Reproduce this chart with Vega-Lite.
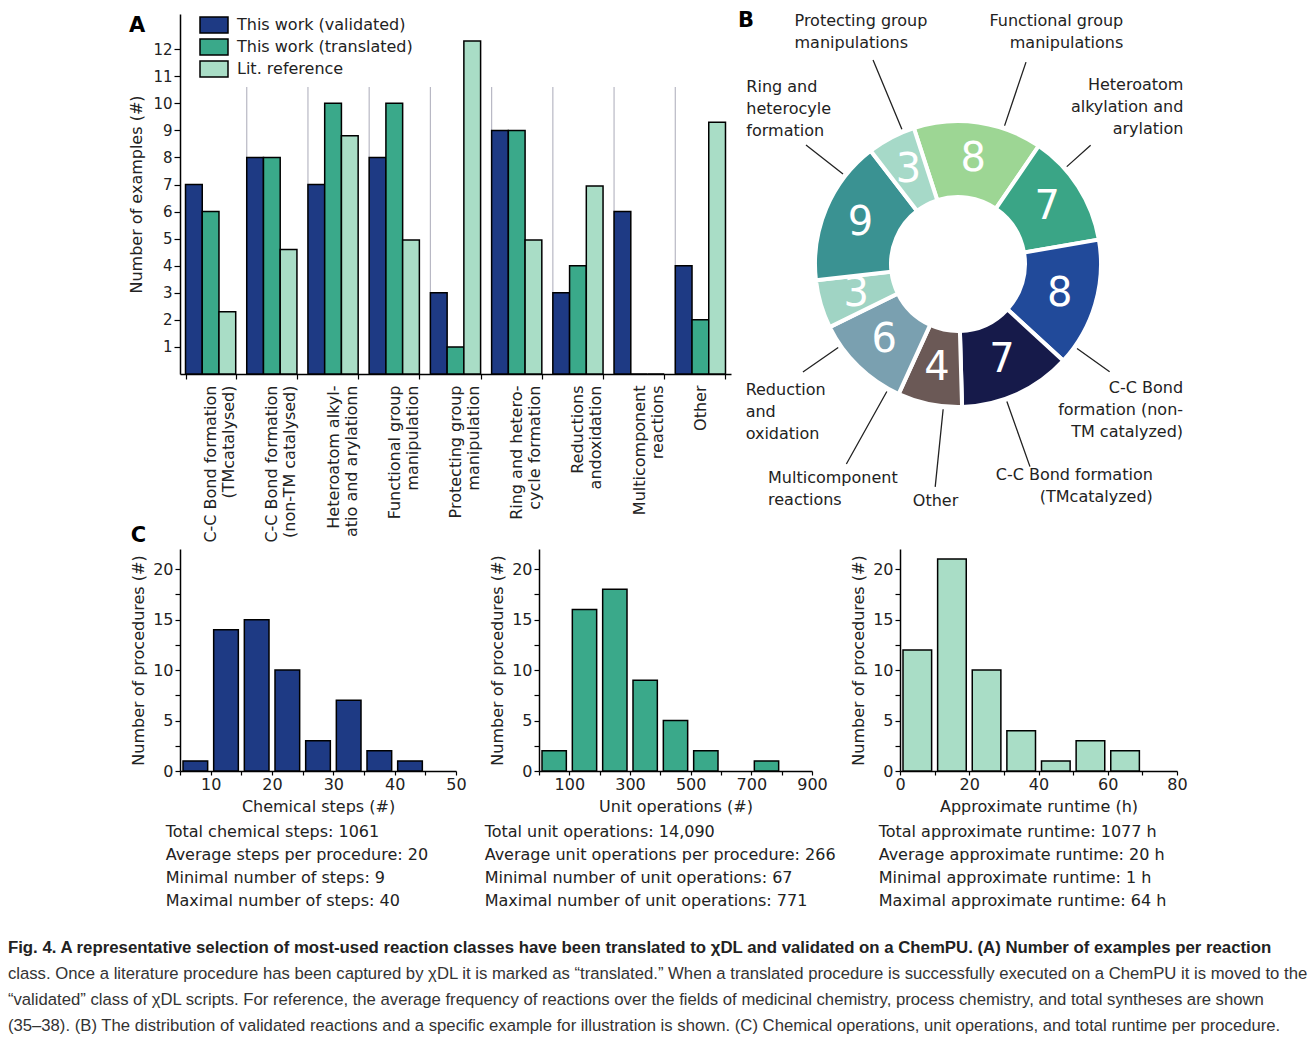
{
  "$schema": "https://vega.github.io/schema/vega-lite/v6.json",
  "padding": {"left": 7, "top": 9, "right": 4, "bottom": 4},
  "datasets": {
    "a": [
      {"k": 1, "cat": "C-C Bond formation\n(TMcatalysed)", "s": "This work (validated)", "v": 7},
      {"k": 1, "cat": "C-C Bond formation\n(TMcatalysed)", "s": "This work (translated)", "v": 6},
      {"k": 1, "cat": "C-C Bond formation\n(TMcatalysed)", "s": "Lit. reference", "v": 2.3},
      {"k": 2, "cat": "C-C Bond formation\n(non-TM catalysed)", "s": "This work (validated)", "v": 8},
      {"k": 2, "cat": "C-C Bond formation\n(non-TM catalysed)", "s": "This work (translated)", "v": 8},
      {"k": 2, "cat": "C-C Bond formation\n(non-TM catalysed)", "s": "Lit. reference", "v": 4.6},
      {"k": 3, "cat": "Heteroatom alkyl-\natio and arylationn", "s": "This work (validated)", "v": 7},
      {"k": 3, "cat": "Heteroatom alkyl-\natio and arylationn", "s": "This work (translated)", "v": 10},
      {"k": 3, "cat": "Heteroatom alkyl-\natio and arylationn", "s": "Lit. reference", "v": 8.8},
      {"k": 4, "cat": "Functional group\nmanipulation", "s": "This work (validated)", "v": 8},
      {"k": 4, "cat": "Functional group\nmanipulation", "s": "This work (translated)", "v": 10},
      {"k": 4, "cat": "Functional group\nmanipulation", "s": "Lit. reference", "v": 4.95},
      {"k": 5, "cat": "Protecting group\nmanipulation", "s": "This work (validated)", "v": 3},
      {"k": 5, "cat": "Protecting group\nmanipulation", "s": "This work (translated)", "v": 1},
      {"k": 5, "cat": "Protecting group\nmanipulation", "s": "Lit. reference", "v": 12.3},
      {"k": 6, "cat": "Ring and hetero-\ncycle formation", "s": "This work (validated)", "v": 9},
      {"k": 6, "cat": "Ring and hetero-\ncycle formation", "s": "This work (translated)", "v": 9},
      {"k": 6, "cat": "Ring and hetero-\ncycle formation", "s": "Lit. reference", "v": 4.95},
      {"k": 7, "cat": "Reductions\nandoxidation", "s": "This work (validated)", "v": 3},
      {"k": 7, "cat": "Reductions\nandoxidation", "s": "This work (translated)", "v": 4},
      {"k": 7, "cat": "Reductions\nandoxidation", "s": "Lit. reference", "v": 6.95},
      {"k": 8, "cat": "Multicomponent\nreactions", "s": "This work (validated)", "v": 6},
      {"k": 8, "cat": "Multicomponent\nreactions", "s": "This work (translated)", "v": 0},
      {"k": 8, "cat": "Multicomponent\nreactions", "s": "Lit. reference", "v": 0},
      {"k": 9, "cat": "Other", "s": "This work (validated)", "v": 4},
      {"k": 9, "cat": "Other", "s": "This work (translated)", "v": 2},
      {"k": 9, "cat": "Other", "s": "Lit. reference", "v": 9.3}
    ],
    "b": [
      {"ord": 1, "seg": "Functional group manipulations", "n": 8, "lab": "Functional group\nmanipulations"},
      {"ord": 2, "seg": "Heteroatom alkylation and arylation", "n": 7, "lab": "Heteroatom\nalkylation and\narylation"},
      {"ord": 3, "seg": "C-C Bond formation (non-TM catalyzed)", "n": 8, "lab": "C-C Bond\nformation (non-\nTM catalyzed)"},
      {"ord": 4, "seg": "C-C Bond formation (TMcatalyzed)", "n": 7, "lab": "C-C Bond formation\n(TMcatalyzed)"},
      {"ord": 5, "seg": "Other", "n": 4, "lab": "Other"},
      {"ord": 6, "seg": "Multicomponent reactions", "n": 6, "lab": "Multicomponent\nreactions"},
      {"ord": 7, "seg": "Reduction and oxidation", "n": 3, "lab": "Reduction\nand\noxidation"},
      {"ord": 8, "seg": "Ring and heterocyle formation", "n": 9, "lab": "Ring and\nheterocyle\nformation"},
      {"ord": 9, "seg": "Protecting group manipulations", "n": 3, "lab": "Protecting group\nmanipulations"}
    ],
    "c1": [
      {"b0": 5, "b1": 10, "n": 1}, {"b0": 10, "b1": 15, "n": 14}, {"b0": 15, "b1": 20, "n": 15},
      {"b0": 20, "b1": 25, "n": 10}, {"b0": 25, "b1": 30, "n": 3}, {"b0": 30, "b1": 35, "n": 7},
      {"b0": 35, "b1": 40, "n": 2}, {"b0": 40, "b1": 45, "n": 1}
    ],
    "c2": [
      {"b0": 0, "b1": 100, "n": 2}, {"b0": 100, "b1": 200, "n": 16}, {"b0": 200, "b1": 300, "n": 18},
      {"b0": 300, "b1": 400, "n": 9}, {"b0": 400, "b1": 500, "n": 5}, {"b0": 500, "b1": 600, "n": 2},
      {"b0": 700, "b1": 800, "n": 1}
    ],
    "c3": [
      {"b0": 0, "b1": 10, "n": 12}, {"b0": 10, "b1": 20, "n": 21}, {"b0": 20, "b1": 30, "n": 10},
      {"b0": 30, "b1": 40, "n": 4}, {"b0": 40, "b1": 50, "n": 1}, {"b0": 50, "b1": 60, "n": 3},
      {"b0": 60, "b1": 70, "n": 2}
    ]
  },
  "title": {
    "text": "Fig. 4. A representative selection of most-used reaction classes have been translated to χDL and validated on a ChemPU. (A) Number of examples per reaction",
    "subtitle": [
      "class. Once a literature procedure has been captured by χDL it is marked as “translated.” When a translated procedure is successfully executed on a ChemPU it is moved to the",
      "“validated” class of χDL scripts. For reference, the average frequency of reactions over the fields of medicinal chemistry, process chemistry, and total syntheses are shown",
      "(35–38). (B) The distribution of validated reactions and a specific example for illustration is shown. (C) Chemical operations, unit operations, and total runtime per procedure."
    ],
    "orient": "bottom",
    "anchor": "start",
    "frame": "bounds",
    "dx": -121,
    "offset": 31,
    "font": "Liberation Sans, Arial, sans-serif",
    "fontSize": 16.8,
    "fontWeight": "bold",
    "color": "#222",
    "subtitleFont": "Liberation Sans, Arial, sans-serif",
    "subtitleFontSize": 16.7,
    "subtitleColor": "#333",
    "subtitleLineHeight": 26,
    "subtitlePadding": 9
  },
  "resolve": {"scale": {"color": "independent"}, "legend": {"color": "independent"}},
  "spacing": -18,
  "vconcat": [
    {
      "spacing": 7,
      "resolve": {"scale": {"color": "independent"}, "legend": {"color": "independent"}},
      "hconcat": [
        {
          "title": {"text": "A", "anchor": "start", "frame": "bounds", "fontSize": 21, "fontWeight": "bold", "font": "DejaVu Sans", "offset": -22},
          "width": 551,
          "height": 360,
          "data": {"name": "a"},
          "encoding": {
            "x": {
              "field": "cat", "type": "nominal", "sort": {"field": "k", "op": "min"},
              "scale": {"paddingInner": 0.18, "paddingOuter": 0.09},
              "axis": {
                "title": null, "labelAngle": -90, "labelAlign": "right", "labelBaseline": "middle",
                "labelExpr": "split(datum.label, '\\n')", "labelFontSize": 16, "labelLineHeight": 18,
                "tickBand": "extent", "tickSize": 5, "labelPadding": 6, "labelLimit": 0, "labelOverlap": false
              }
            }
          },
          "layer": [
            {
              "transform": [{"filter": "datum.k > 1 && datum.s === 'Lit. reference'"}],
              "mark": {"type": "rule", "color": "#b8b8c4", "strokeWidth": 1.2},
              "encoding": {
                "x": {"field": "cat", "type": "nominal", "sort": {"field": "k", "op": "min"}, "bandPosition": 0},
                "y": {
                  "datum": 0, "type": "quantitative",
                  "scale": {"domain": [0, 13.3], "nice": false},
                  "axis": {"values": [1, 2, 3, 4, 5, 6, 7, 8, 9, 10, 11, 12], "labelOverlap": false, "title": "Number of examples (#)", "labelFontSize": 15, "titleFontSize": 16, "tickSize": 6, "titlePadding": 8}
                },
                "y2": {"datum": 10.6}
              }
            },
            {
              "mark": {"type": "bar", "stroke": "black", "strokeWidth": 1.5},
              "encoding": {
                "xOffset": {"field": "s", "type": "nominal", "sort": ["This work (validated)", "This work (translated)", "Lit. reference"], "scale": {"paddingInner": 0, "paddingOuter": 0}},
                "y": {
                  "field": "v", "type": "quantitative",
                  "scale": {"domain": [0, 13.3], "nice": false},
                  "axis": {"values": [1, 2, 3, 4, 5, 6, 7, 8, 9, 10, 11, 12], "labelOverlap": false, "title": "Number of examples (#)", "labelFontSize": 15, "titleFontSize": 16, "tickSize": 6, "titlePadding": 8}
                },
                "color": {
                  "field": "s", "type": "nominal",
                  "sort": ["This work (validated)", "This work (translated)", "Lit. reference"],
                  "scale": {"domain": ["This work (validated)", "This work (translated)", "Lit. reference"], "range": ["#1e3a84", "#3aa98a", "#a9ddc6"]},
                  "legend": {
                    "orient": "none", "legendX": 25, "legendY": 2, "title": null,
                    "symbolType": "M-1.75,-1H1.75V1H-1.75Z", "symbolSize": 256,
                    "symbolStrokeColor": "black", "symbolStrokeWidth": 1.5, "symbolOpacity": 1,
                    "labelFontSize": 16, "labelColor": "#222", "labelFont": "DejaVu Sans", "labelLimit": 0,
                    "rowPadding": 0, "labelOffset": 14
                  }
                }
              }
            }
          ]
        },
        {
          "title": {"text": "B", "anchor": "start", "frame": "group", "fontSize": 21, "fontWeight": "bold", "font": "DejaVu Sans", "offset": -18},
          "width": 440,
          "height": 500,
          "data": {"name": "b"},
          "encoding": {
            "theta": {"field": "n", "type": "quantitative", "stack": true, "scale": {"range": [-0.314, 5.969]}},
            "order": {"field": "ord", "type": "quantitative"}
          },
          "layer": [
            {
              "mark": {"type": "arc", "outerRadius": 143, "innerRadius": 67, "stroke": "white", "strokeWidth": 4},
              "encoding": {
                "color": {
                  "field": "seg", "type": "nominal", "legend": null,
                  "scale": {
                    "domain": ["Functional group manipulations", "Heteroatom alkylation and arylation", "C-C Bond formation (non-TM catalyzed)", "C-C Bond formation (TMcatalyzed)", "Other", "Multicomponent reactions", "Reduction and oxidation", "Ring and heterocyle formation", "Protecting group manipulations"],
                    "range": ["#9dd694", "#3aa586", "#214a9a", "#161a4a", "#6b5956", "#7aa0b0", "#a0d4c4", "#3a9292", "#a6d9c8"]
                  }
                }
              }
            },
            {
              "mark": {"type": "text", "radius": 106, "fontSize": 40, "color": "white", "font": "DejaVu Sans"},
              "encoding": {"text": {"field": "n", "type": "quantitative"}}
            },
            {
              "transform": [{"stack": "n", "groupby": [], "sort": [{"field": "ord", "order": "ascending"}], "as": ["t0", "t1"]}, {"filter": "datum.ord === 1"}],
              "layer": [
                {"mark": {"type": "arc", "innerRadius": 146, "outerRadius": 213, "padAngle": 3, "thetaOffset": 0.182, "theta2Offset": 0.182, "stroke": "#222", "strokeWidth": 1.3, "fill": "#222"},
                 "encoding": {"theta": {"field": "t0", "type": "quantitative", "stack": null}, "theta2": {"field": "t1"}}},
                {"mark": {"type": "text", "radius": 294, "thetaOffset": 0.911, "align": "right", "baseline": "middle", "lineBreak": "\n", "fontSize": 16, "lineHeight": 22, "color": "#222"},
                 "encoding": {"theta": {"field": "t0", "type": "quantitative", "stack": null}, "text": {"field": "lab"}}}
              ]
            },
            {
              "transform": [{"stack": "n", "groupby": [], "sort": [{"field": "ord", "order": "ascending"}], "as": ["t0", "t1"]}, {"filter": "datum.ord === 2"}],
              "layer": [
                {"mark": {"type": "arc", "innerRadius": 146, "outerRadius": 178, "padAngle": 3, "thetaOffset": -0.159, "theta2Offset": -0.159, "stroke": "#222", "strokeWidth": 1.3, "fill": "#222"},
                 "encoding": {"theta": {"field": "t0", "type": "quantitative", "stack": null}, "theta2": {"field": "t1"}}},
                {"mark": {"type": "text", "radius": 288, "thetaOffset": 0.299, "align": "right", "baseline": "middle", "lineBreak": "\n", "fontSize": 16, "lineHeight": 22, "color": "#222"},
                 "encoding": {"theta": {"field": "t0", "type": "quantitative", "stack": null}, "text": {"field": "lab"}}}
              ]
            },
            {
              "transform": [{"stack": "n", "groupby": [], "sort": [{"field": "ord", "order": "ascending"}], "as": ["t0", "t1"]}, {"filter": "datum.ord === 3"}],
              "layer": [
                {"mark": {"type": "arc", "innerRadius": 146, "outerRadius": 186, "padAngle": 3, "thetaOffset": 0.332, "theta2Offset": 0.332, "stroke": "#222", "strokeWidth": 1.3, "fill": "#222"},
                 "encoding": {"theta": {"field": "t0", "type": "quantitative", "stack": null}, "theta2": {"field": "t1"}}},
                {"mark": {"type": "text", "radius": 257, "thetaOffset": 0.675, "align": "right", "baseline": "middle", "lineBreak": "\n", "fontSize": 16, "lineHeight": 22, "color": "#222"},
                 "encoding": {"theta": {"field": "t0", "type": "quantitative", "stack": null}, "text": {"field": "lab"}}}
              ]
            },
            {
              "transform": [{"stack": "n", "groupby": [], "sort": [{"field": "ord", "order": "ascending"}], "as": ["t0", "t1"]}, {"filter": "datum.ord === 4"}],
              "layer": [
                {"mark": {"type": "arc", "innerRadius": 146, "outerRadius": 215, "padAngle": 3, "thetaOffset": 0.087, "theta2Offset": 0.087, "stroke": "#222", "strokeWidth": 1.3, "fill": "#222"},
                 "encoding": {"theta": {"field": "t0", "type": "quantitative", "stack": null}, "theta2": {"field": "t1"}}},
                {"mark": {"type": "text", "radius": 287, "thetaOffset": 0.082, "align": "right", "baseline": "middle", "lineBreak": "\n", "fontSize": 16, "lineHeight": 22, "color": "#222"},
                 "encoding": {"theta": {"field": "t0", "type": "quantitative", "stack": null}, "text": {"field": "lab"}}}
              ]
            },
            {
              "transform": [{"stack": "n", "groupby": [], "sort": [{"field": "ord", "order": "ascending"}], "as": ["t0", "t1"]}, {"filter": "datum.ord === 5"}],
              "layer": [
                {"mark": {"type": "arc", "innerRadius": 146, "outerRadius": 224, "padAngle": 3, "thetaOffset": -0.098, "theta2Offset": -0.098, "stroke": "#222", "strokeWidth": 1.3, "fill": "#222"},
                 "encoding": {"theta": {"field": "t0", "type": "quantitative", "stack": null}, "theta2": {"field": "t1"}}},
                {"mark": {"type": "text", "radius": 238, "thetaOffset": 0.123, "align": "center", "baseline": "middle", "lineBreak": "\n", "fontSize": 16, "lineHeight": 22, "color": "#222"},
                 "encoding": {"theta": {"field": "t0", "type": "quantitative", "stack": null}, "text": {"field": "lab"}}}
              ]
            },
            {
              "transform": [{"stack": "n", "groupby": [], "sort": [{"field": "ord", "order": "ascending"}], "as": ["t0", "t1"]}, {"filter": "datum.ord === 6"}],
              "layer": [
                {"mark": {"type": "arc", "innerRadius": 146, "outerRadius": 229, "padAngle": 3, "thetaOffset": -0.262, "theta2Offset": -0.262, "stroke": "#222", "strokeWidth": 1.3, "fill": "#222"},
                 "encoding": {"theta": {"field": "t0", "type": "quantitative", "stack": null}, "theta2": {"field": "t1"}}},
                {"mark": {"type": "text", "radius": 286, "thetaOffset": 0.298, "align": "left", "baseline": "middle", "lineBreak": "\n", "fontSize": 16, "lineHeight": 22, "color": "#222"},
                 "encoding": {"theta": {"field": "t0", "type": "quantitative", "stack": null}, "text": {"field": "lab"}}}
              ]
            },
            {
              "transform": [{"stack": "n", "groupby": [], "sort": [{"field": "ord", "order": "ascending"}], "as": ["t0", "t1"]}, {"filter": "datum.ord === 7"}],
              "layer": [
                {"mark": {"type": "arc", "innerRadius": 146, "outerRadius": 189, "padAngle": 3, "thetaOffset": -0.323, "theta2Offset": -0.323, "stroke": "#222", "strokeWidth": 1.3, "fill": "#222"},
                 "encoding": {"theta": {"field": "t0", "type": "quantitative", "stack": null}, "theta2": {"field": "t1"}}},
                {"mark": {"type": "text", "radius": 247, "thetaOffset": -0.079, "align": "left", "baseline": "middle", "lineBreak": "\n", "fontSize": 16, "lineHeight": 22, "color": "#222"},
                 "encoding": {"theta": {"field": "t0", "type": "quantitative", "stack": null}, "text": {"field": "lab"}}}
              ]
            },
            {
              "transform": [{"stack": "n", "groupby": [], "sort": [{"field": "ord", "order": "ascending"}], "as": ["t0", "t1"]}, {"filter": "datum.ord === 8"}],
              "layer": [
                {"mark": {"type": "arc", "innerRadius": 146, "outerRadius": 193, "padAngle": 3, "thetaOffset": 0.264, "theta2Offset": 0.264, "stroke": "#222", "strokeWidth": 1.3, "fill": "#222"},
                 "encoding": {"theta": {"field": "t0", "type": "quantitative", "stack": null}, "theta2": {"field": "t1"}}},
                {"mark": {"type": "text", "radius": 276, "thetaOffset": 0.811, "align": "left", "baseline": "middle", "lineBreak": "\n", "fontSize": 16, "lineHeight": 22, "color": "#222"},
                 "encoding": {"theta": {"field": "t0", "type": "quantitative", "stack": null}, "text": {"field": "lab"}}}
              ]
            },
            {
              "transform": [{"stack": "n", "groupby": [], "sort": [{"field": "ord", "order": "ascending"}], "as": ["t0", "t1"]}, {"filter": "datum.ord === 9"}],
              "layer": [
                {"mark": {"type": "arc", "innerRadius": 146, "outerRadius": 221, "padAngle": 3, "thetaOffset": 0.091, "theta2Offset": 0.091, "stroke": "#222", "strokeWidth": 1.3, "fill": "#222"},
                 "encoding": {"theta": {"field": "t0", "type": "quantitative", "stack": null}, "theta2": {"field": "t1"}}},
                {"mark": {"type": "text", "radius": 293, "thetaOffset": 0.065, "align": "left", "baseline": "middle", "lineBreak": "\n", "fontSize": 16, "lineHeight": 22, "color": "#222"},
                 "encoding": {"theta": {"field": "t0", "type": "quantitative", "stack": null}, "text": {"field": "lab"}}}
              ]
            }
          ]
        }
      ]
    },
    {
      "title": {"text": "C", "anchor": "start", "frame": "bounds", "fontSize": 21, "fontWeight": "bold", "font": "DejaVu Sans", "offset": 3},
      "spacing": 14,
      "hconcat": [
        {
          "spacing": 17,
          "hconcat": [
            {
              "width": 276,
              "height": 222,
              "data": {"name": "c1"},
              "title": {
                "text": ["Total chemical steps: 1061", "Average steps per procedure: 20", "Minimal number of steps: 9", "Maximal number of steps: 40"],
                "orient": "bottom", "anchor": "start", "frame": "bounds", "dx": 35, "offset": 10,
                "fontSize": 16, "fontWeight": "normal", "lineHeight": 23, "font": "DejaVu Sans", "color": "#222"
              },
              "mark": {"type": "bar", "color": "#1e3a84", "stroke": "black", "strokeWidth": 1.5, "xOffset": 3, "x2Offset": -3},
              "encoding": {
                "x": {
                  "field": "b0", "type": "quantitative",
                  "scale": {"domain": [5, 50], "nice": false, "zero": false},
                  "axis": {"values": [5, 10, 15, 20, 25, 30, 35, 40, 45, 50], "labelExpr": "datum.value % 10 === 0 ? datum.label : ''", "title": "Chemical steps (#)", "labelFontSize": 16, "titleFontSize": 16, "tickSize": 4, "labelPadding": 1, "titlePadding": 6, "labelFlush": false}
                },
                "x2": {"field": "b1"},
                "y": {
                  "field": "n", "type": "quantitative",
                  "scale": {"domain": [0, 22], "nice": false},
                  "axis": {"values": [0, 2.5, 5, 7.5, 10, 12.5, 15, 17.5, 20], "labelExpr": "datum.value % 5 === 0 ? datum.label : ''", "title": "Number of procedures (#)", "labelFontSize": 16, "titleFontSize": 16, "tickSize": 5, "titlePadding": 6}
                },
                "y2": {"datum": 0}
              }
            },
            {
              "width": 273,
              "height": 222,
              "data": {"name": "c2"},
              "title": {
                "text": ["Total unit operations: 14,090", "Average unit operations per procedure: 266", "Minimal number of unit operations: 67", "Maximal number of unit operations: 771"],
                "orient": "bottom", "anchor": "start", "frame": "bounds", "dx": -5, "offset": 10,
                "fontSize": 16, "fontWeight": "normal", "lineHeight": 23, "font": "DejaVu Sans", "color": "#222"
              },
              "mark": {"type": "bar", "color": "#3aa98a", "stroke": "black", "strokeWidth": 1.5, "xOffset": 3, "x2Offset": -3},
              "encoding": {
                "x": {
                  "field": "b0", "type": "quantitative",
                  "scale": {"domain": [0, 900], "nice": false},
                  "axis": {"values": [0, 100, 200, 300, 400, 500, 600, 700, 800, 900], "labelExpr": "datum.value % 200 === 100 ? datum.label : ''", "title": "Unit operations (#)", "labelFontSize": 16, "titleFontSize": 16, "tickSize": 4, "labelPadding": 1, "titlePadding": 6, "labelFlush": false}
                },
                "x2": {"field": "b1"},
                "y": {
                  "field": "n", "type": "quantitative",
                  "scale": {"domain": [0, 22], "nice": false},
                  "axis": {"values": [0, 2.5, 5, 7.5, 10, 12.5, 15, 17.5, 20], "labelExpr": "datum.value % 5 === 0 ? datum.label : ''", "title": "Number of procedures (#)", "labelFontSize": 16, "titleFontSize": 16, "tickSize": 5, "titlePadding": 6}
                },
                "y2": {"datum": 0}
              }
            }
          ]
        },
        {
          "width": 277,
          "height": 222,
          "data": {"name": "c3"},
          "title": {
            "text": ["Total approximate runtime: 1077 h", "Average approximate runtime: 20 h", "Minimal approximate runtime: 1 h", "Maximal approximate runtime: 64 h"],
            "orient": "bottom", "anchor": "start", "frame": "bounds", "dx": 28, "offset": 10,
            "fontSize": 16, "fontWeight": "normal", "lineHeight": 23, "font": "DejaVu Sans", "color": "#222"
          },
          "mark": {"type": "bar", "color": "#a9ddc6", "stroke": "black", "strokeWidth": 1.5, "xOffset": 3, "x2Offset": -3},
          "encoding": {
            "x": {
              "field": "b0", "type": "quantitative",
              "scale": {"domain": [0, 80], "nice": false},
              "axis": {"values": [0, 10, 20, 30, 40, 50, 60, 70, 80], "labelExpr": "datum.value % 20 === 0 ? datum.label : ''", "title": "Approximate runtime (h)", "labelFontSize": 16, "titleFontSize": 16, "tickSize": 4, "labelPadding": 1, "titlePadding": 6, "labelFlush": false}
            },
            "x2": {"field": "b1"},
            "y": {
              "field": "n", "type": "quantitative",
              "scale": {"domain": [0, 22], "nice": false},
              "axis": {"values": [0, 2.5, 5, 7.5, 10, 12.5, 15, 17.5, 20], "labelExpr": "datum.value % 5 === 0 ? datum.label : ''", "title": "Number of procedures (#)", "labelFontSize": 16, "titleFontSize": 16, "tickSize": 5, "titlePadding": 6}
            },
            "y2": {"datum": 0}
          }
        }
      ]
    }
  ],
  "config": {
    "view": {"stroke": null},
    "font": "DejaVu Sans",
    "legend": {"rowPadding": 0},
    "axis": {
      "domainColor": "black", "tickColor": "black", "labelColor": "#222", "titleColor": "#222",
      "labelFont": "DejaVu Sans", "titleFont": "DejaVu Sans", "titleFontWeight": "normal",
      "grid": false, "domainWidth": 1.5, "tickWidth": 1.2
    }
  }
}
